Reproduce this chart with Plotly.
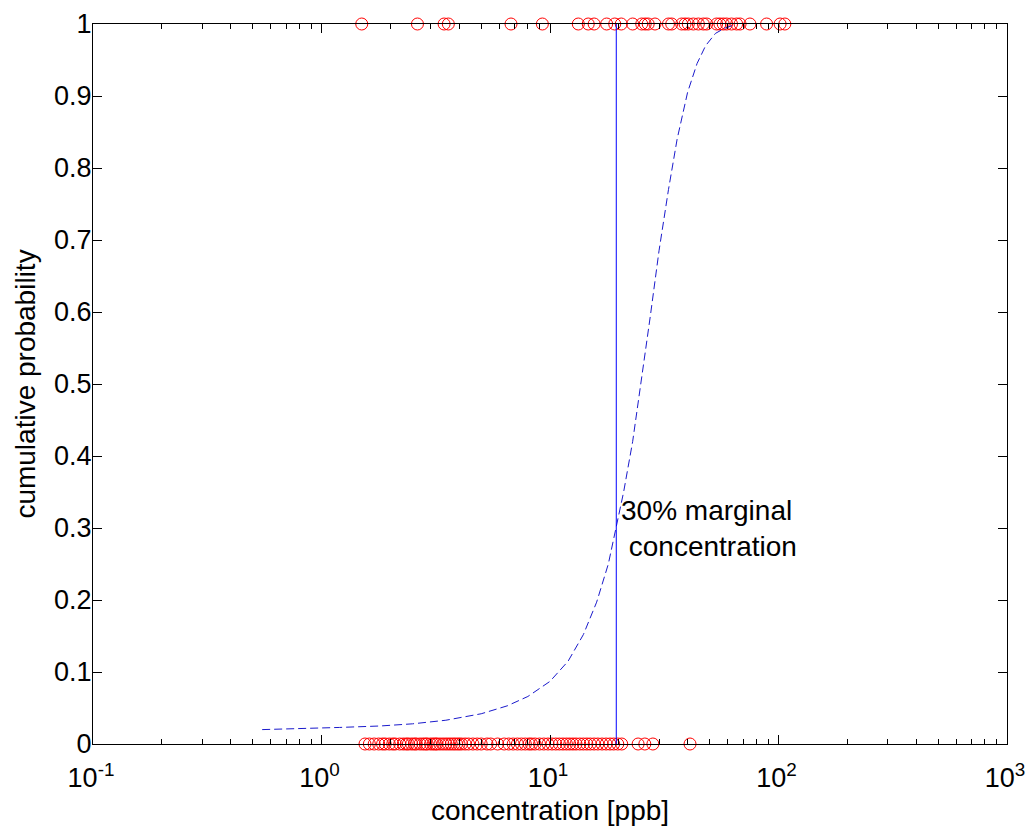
import math
import plotly.graph_objects as go

# observed concentrations [ppb] with outcome 1 (top row) and 0 (bottom row)
conc_pos = [1.50, 2.63, 3.44, 3.59, 6.75, 9.26, 13.3, 14.7, 15.6, 17.7, 19.2, 20.5,
            23.0, 25.2, 26.1, 26.9, 28.8, 33.0, 34.1, 37.7, 39.0, 40.3, 42.4, 44.6,
            46.9, 48.5, 53.6, 55.4, 57.3, 59.3, 62.3, 65.6, 67.9, 75.0, 88.7, 101.6, 106.6]
conc_neg = [1.55, 1.62, 1.70, 1.78, 1.85, 1.90, 1.98, 2.05, 2.10, 2.20, 2.28, 2.35,
            2.40, 2.48, 2.55, 2.60, 2.70, 2.78, 2.85, 2.90, 3.00, 3.08, 3.15, 3.20,
            3.30, 3.40, 3.50, 3.60, 3.70, 3.80, 3.90, 4.00, 4.10, 4.25, 4.40, 4.60,
            4.80, 5.00, 5.30, 5.50, 5.90, 6.30, 6.60, 6.90, 7.20, 7.50, 7.80, 8.10,
            8.30, 8.60, 9.00, 9.40, 9.80, 10.2, 10.6, 11.0, 11.4, 11.8, 12.2, 12.6,
            13.0, 13.5, 14.0, 14.5, 15.0, 15.6, 16.2, 16.9, 17.6, 18.3, 19.0, 19.8,
            20.6, 24.3, 26.0, 28.2, 41.0]

# fitted cumulative probability curve
curve_x = [0.55, 0.8, 1.2, 1.8, 2.5, 3.5, 5.0, 6.5, 8.0, 10, 12, 14, 16, 18, 19.5,
           21, 23, 25, 27.5, 30, 33, 36, 40, 44, 48, 53, 58, 63]
curve_p = [0.020, 0.021, 0.023, 0.025, 0.028, 0.033, 0.042, 0.053, 0.066, 0.087,
           0.115, 0.152, 0.197, 0.250, 0.300, 0.350, 0.420, 0.500, 0.595, 0.685,
           0.770, 0.840, 0.905, 0.945, 0.970, 0.987, 0.994, 0.998]

marginal_conc = 19.5   # 30% marginal concentration
marginal_label = '30% marginal<br>\u00a0concentration'

x_ticks = [0.1, 1, 10, 100, 1000]
x_ticktext = ['10<sup>-1</sup>', '10<sup>0</sup>', '10<sup>1</sup>', '10<sup>2</sup>', '10<sup>3</sup>']
y_ticks = [0, 0.1, 0.2, 0.3, 0.4, 0.5, 0.6, 0.7, 0.8, 0.9, 1]
y_ticktext = ['0', '0.1', '0.2', '0.3', '0.4', '0.5', '0.6', '0.7', '0.8', '0.9', '1']

FONT = 'Liberation Sans, Arial, sans-serif'

fig = go.Figure()
fig.add_trace(go.Scatter(x=conc_pos, y=[1] * len(conc_pos), mode='markers', cliponaxis=False,
                         marker=dict(symbol='circle-open', size=12, color='#ff0000', line=dict(width=1))))
fig.add_trace(go.Scatter(x=conc_neg, y=[0] * len(conc_neg), mode='markers', cliponaxis=False,
                         marker=dict(symbol='circle-open', size=12, color='#ff0000', line=dict(width=1))))
fig.add_trace(go.Scatter(x=curve_x, y=curve_p, mode='lines', line=dict(color='#1a1acc', width=1, dash='8px,4px')))
fig.add_trace(go.Scatter(x=[marginal_conc, marginal_conc], y=[0, 1], mode='lines',
                         line=dict(color='#0000ff', width=1)))

# log axis: annotation x is given in log10 units
fig.add_annotation(x=math.log10(marginal_conc), y=0.30, xref='x', yref='y', text=marginal_label,
                   showarrow=False, xanchor='left', yanchor='middle', align='left', xshift=3,
                   font=dict(family=FONT, size=28, color='black'))

axis_common = dict(showline=True, linecolor='black', linewidth=1, mirror='ticks', ticks='inside',
                   tickcolor='black', ticklen=9, showgrid=False, zeroline=False, automargin=False,
                   tickfont=dict(family=FONT, size=27, color='black'))
fig.update_xaxes(type='log', range=[-1, 3], tickvals=x_ticks, ticktext=x_ticktext,
                 ticklabelstandoff=10, ticklabelshift=-2,
                 minor=dict(ticks='inside', ticklen=5, tickcolor='black', dtick='D1', showgrid=False),
                 title=dict(text='concentration [ppb]', font=dict(family=FONT, size=28, color='black'), standoff=7),
                 **axis_common)
fig.update_yaxes(range=[0, 1], tickvals=y_ticks, ticktext=y_ticktext, ticklabelstandoff=-5,
                 title=dict(text='cumulative probability', font=dict(family=FONT, size=28, color='black'), standoff=10),
                 **axis_common)
fig.update_layout(width=1029, height=828, margin=dict(l=93, r=22, t=24, b=84),
                  paper_bgcolor='white', plot_bgcolor='white', showlegend=False, hovermode=False,
                  font=dict(family=FONT, size=27, color='black'))

# drop the default 8px body margin so the figure fills the window exactly
fig.write_html('out.html', config={'displayModeBar': False},
               post_script="document.body.style.margin='0';")
